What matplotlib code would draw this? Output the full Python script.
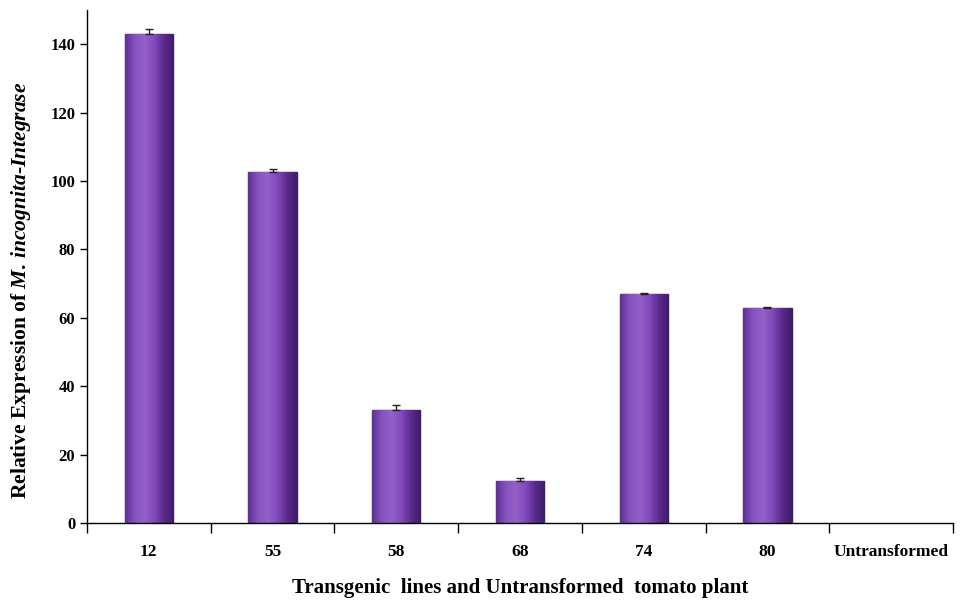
import numpy as np
import matplotlib.pyplot as plt
from matplotlib.colors import LinearSegmentedColormap

# values
lines = ["12", "55", "58", "68", "74", "80", "Untransformed"]
expression = [143.0, 102.8, 33.0, 12.2, 67.0, 62.8, 0.0]
errors = [1.5, 0.8, 1.6, 0.9, 0.3, 0.3, 0.0]

plt.rcParams["font.family"] = ["Liberation Serif", "DejaVu Serif"]
plt.rcParams["font.weight"] = "bold"
plt.rcParams["mathtext.fontset"] = "custom"
plt.rcParams["mathtext.it"] = "Liberation Serif:italic:bold"
plt.rcParams["mathtext.rm"] = "Liberation Serif:bold"

fig = plt.figure(figsize=(9.62, 6.02), dpi=100)
ax = fig.add_axes([0.0904, 0.1312, 0.9002, 0.852])

x = np.arange(len(lines))
bars = ax.bar(x, expression, width=0.39, color="#7a44b4", edgecolor="#3f1c6a",
              linewidth=1.0, zorder=2)

# horizontal shading inside each bar
shade = LinearSegmentedColormap.from_list(
    "shade", ["#5e2f92", "#8552c0", "#9461c9", "#8249bc", "#5a2a8c", "#3f1c6a"])
grad = np.linspace(0, 1, 256).reshape(1, -1)
for b in bars:
    if b.get_height() <= 0:
        b.set_linewidth(0)
        continue
    x0, w, h = b.get_x(), b.get_width(), b.get_height()
    im = ax.imshow(grad, cmap=shade, aspect="auto", extent=(x0, x0 + w, 0, h),
                   zorder=2.5)
    im.set_clip_path(b)

ax.errorbar(x[:-1], expression[:-1], yerr=[np.zeros(len(errors) - 1), errors[:-1]],
            fmt="none", ecolor="#222222", elinewidth=1.0, capsize=3, zorder=3)

ax.set_xlim(-0.5, len(lines) - 0.5)
ax.set_ylim(0, 150)
ax.set_yticks(np.arange(0, 141, 20))
ax.set_xticks(x)
ax.set_xticklabels(lines, fontsize=12.5, fontweight="bold")
ax.set_xticks(np.arange(-0.5, len(lines)), minor=True)
ax.tick_params(axis="x", which="major", length=0, pad=15)
ax.tick_params(axis="x", which="minor", length=7, width=1, direction="out")
ax.tick_params(axis="y", length=5, width=1, direction="out", labelsize=12)
for lab in ax.get_yticklabels():
    lab.set_fontweight("bold")

for side in ["top", "right"]:
    ax.spines[side].set_visible(False)
ax.spines["left"].set_linewidth(1.0)
ax.spines["bottom"].set_linewidth(1.0)

ax.set_ylabel(r"Relative Expression of $\mathit{M.\,incognita}$-$\mathit{Integrase}$",
              fontsize=15.5, fontweight="bold")
ax.yaxis.set_label_coords(-0.062, 0.454)
ax.set_xlabel("Transgenic  lines and Untransformed  tomato plant",
              fontsize=15, fontweight="bold", labelpad=13)

fig.savefig("out.png", dpi=100)
